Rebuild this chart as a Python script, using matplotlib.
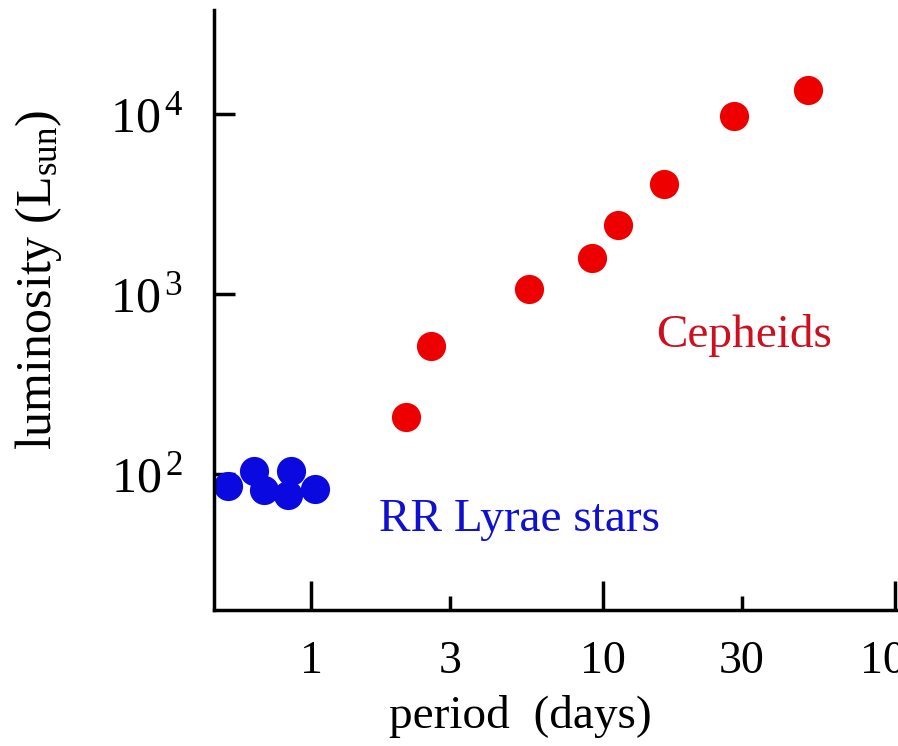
import matplotlib
matplotlib.use('Agg')
import matplotlib.pyplot as plt
from matplotlib.ticker import FixedLocator, FixedFormatter, NullLocator

plt.rcParams['font.family'] = 'Liberation Serif'
plt.rcParams['mathtext.fontset'] = 'custom'
plt.rcParams['mathtext.rm'] = 'Liberation Serif'
plt.rcParams['mathtext.it'] = 'Liberation Serif'

# RR Lyrae stars (period in days, luminosity in L_sun)
rr_period = [0.52, 0.64, 0.69, 0.835, 0.855, 1.03]
rr_lum = [86, 104, 82, 77, 104, 83]

# Cepheids
ceph_period = [2.12, 2.58, 5.6, 9.2, 11.25, 16.2, 28.1, 50.3]
ceph_lum = [207, 516, 1070, 1580, 2430, 4080, 9750, 13600]

x_ticks = [1, 3, 10, 30, 100]
x_labels = ['1', '3', '10', '30', '100']
y_ticks = [100, 1000, 10000]
y_labels = [r'$10^{\,2}$', r'$10^{\,3}$', r'$10^{\,4}$']

fig = plt.figure(figsize=(8.98, 7.46), dpi=100)
ax = fig.add_axes([214 / 898, 136 / 746, 732 / 898, 600 / 746])

ax.plot(rr_period, rr_lum, 'o', color='#0a0ae0', ms=21, mec='none')
ax.plot(ceph_period, ceph_lum, 'o', color='#ee0000', ms=21, mec='none')

ax.set_xscale('log')
ax.set_yscale('log')
ax.set_xlim(0.465, 150)
ax.set_ylim(17.6, 37800)

for s in ['top', 'right']:
    ax.spines[s].set_visible(False)
for s in ['left', 'bottom']:
    ax.spines[s].set_linewidth(2.5)

ax.xaxis.set_major_locator(FixedLocator(x_ticks))
ax.xaxis.set_major_formatter(FixedFormatter(x_labels))
ax.xaxis.set_minor_locator(NullLocator())
ax.yaxis.set_major_locator(FixedLocator(y_ticks))
ax.yaxis.set_major_formatter(FixedFormatter(y_labels))
ax.yaxis.set_minor_locator(NullLocator())

ax.tick_params(axis='x', direction='in', length=21, width=2.5, labelsize=33, pad=22)
ax.tick_params(axis='y', direction='in', length=15, width=2.5, labelsize=36, pad=22)
# shorter ticks for 3 and 30
for t, v in zip(ax.xaxis.get_major_ticks(), x_ticks):
    if v in (3, 30):
        t.tick1line.set_markersize(10)

ax.set_xlabel('period  (days)', fontsize=34)
ax.xaxis.set_label_coords(0.418, -0.142)
ax.set_ylabel(r'luminosity (L$_{\mathrm{sun}}$)', fontsize=36)
ax.yaxis.set_label_coords(-0.205, 0.55)

ax.text(5.2, 55.5, 'RR Lyrae stars', color='#1010d0', fontsize=34,
        ha='center', va='center')
ax.text(30.6, 591, 'Cepheids', color='#cc1020', fontsize=34,
        ha='center', va='center')

fig.savefig('out.png', dpi=100)
